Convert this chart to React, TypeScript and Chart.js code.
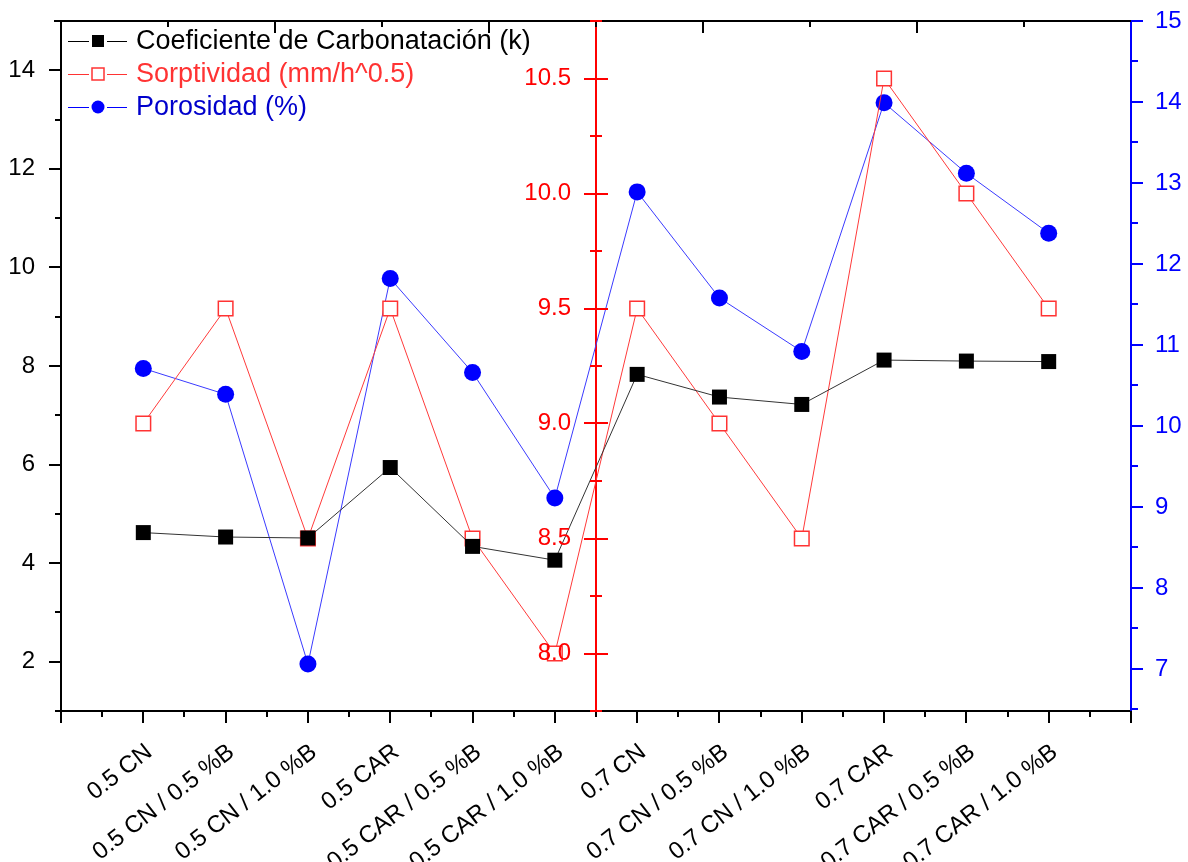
import React, { useEffect, useRef } from 'react';
import { Chart, registerables } from 'chart.js';

Chart.register(...registerables);

const categories = [
  '0.5 CN',
  '0.5 CN / 0.5 %B',
  '0.5 CN / 1.0 %B',
  '0.5 CAR',
  '0.5 CAR / 0.5 %B',
  '0.5 CAR / 1.0 %B',
  '0.7 CN',
  '0.7 CN / 0.5 %B',
  '0.7 CN / 1.0 %B',
  '0.7 CAR',
  '0.7 CAR / 0.5 %B',
  '0.7 CAR / 1.0 %B',
];
const carbonatacion = [4.62, 4.53, 4.51, 5.94, 4.34, 4.06, 7.83, 7.37, 7.22, 8.12, 8.1, 8.09];
const sorptividad = [9.0, 9.5, 8.5, 9.5, 8.5, 8.0, 9.5, 9.0, 8.5, 10.5, 10.0, 9.5];
const porosidad = [10.71, 10.39, 7.06, 11.82, 10.66, 9.11, 12.89, 11.58, 10.92, 13.99, 13.12, 12.38];

const leftTicks = [2, 4, 6, 8, 10, 12, 14];
const redTicks = [8.0, 8.5, 9.0, 9.5, 10.0, 10.5];
const blueTicks = [7, 8, 9, 10, 11, 12, 13, 14, 15];
const legendLabels = ['Coeficiente de Carbonatación (k)', 'Sorptividad (mm/h^0.5)', 'Porosidad (%)'];

const FONT = "'Liberation Sans', Arial, sans-serif";

const toPoints = (arr: number[]) => arr.map((y, i) => ({ x: i, y }));

const zeroPad = (s: any) => {
  s.paddingTop = 0;
  s.paddingBottom = 0;
  s.paddingLeft = 0;
  s.paddingRight = 0;
};

const originPlugin = {
  id: 'originDecor',
  afterDraw(chart: any) {
    const ctx = chart.ctx as CanvasRenderingContext2D;
    const { left, right, top, bottom } = chart.chartArea;
    const xs = chart.scales.x;
    const yL = chart.scales.yL;
    const yR = chart.scales.yR;
    const yB = chart.scales.yB;
    ctx.save();
    ctx.lineCap = 'butt';
    ctx.lineWidth = 2;
    const line = (x1: number, y1: number, x2: number, y2: number, c: string) => {
      ctx.strokeStyle = c;
      ctx.beginPath();
      ctx.moveTo(x1, y1);
      ctx.lineTo(x2, y2);
      ctx.stroke();
    };
    // top frame
    line(left - 7, top, right, top, '#000');
    // top ticks (inward)
    for (let k = 1; k < 10; k++) {
      const v = xs.min + ((xs.max - xs.min) * k) / 10;
      const px = Math.round(xs.getPixelForValue(v));
      line(px, top, px, top + (k % 2 === 0 ? 12 : 6), '#000');
    }
    // bottom ticks
    for (let v = xs.min; v <= xs.max + 1e-6; v += 0.5) {
      const px = Math.round(xs.getPixelForValue(v));
      line(px, bottom, px, bottom + (Number.isInteger(v) ? 12 : 6), '#000');
    }
    // left ticks
    for (let v = yL.min; v <= yL.max + 1e-6; v += 1) {
      const py = Math.round(yL.getPixelForValue(v));
      line(left, py, left - (v % 2 === 0 ? 12 : 6), py, '#000');
    }
    // red middle axis ticks and labels
    const rx = Math.round(xs.getPixelForValue(5.5));
    for (let v = yR.min; v <= yR.max + 1e-6; v += 0.25) {
      const py = Math.round(yR.getPixelForValue(v));
      const major = Math.abs(v * 2 - Math.round(v * 2)) < 1e-6;
      const len = major ? 12 : 6;
      line(rx - len, py, rx + len, py, '#ff0000');
    }
    ctx.font = `24px ${FONT}`;
    ctx.fillStyle = '#ff0000';
    ctx.textAlign = 'right';
    ctx.textBaseline = 'middle';
    redTicks.forEach((v) => {
      ctx.fillText(v.toFixed(1), rx - 25, yR.getPixelForValue(v));
    });
    // blue right ticks
    for (let v = 6.5; v <= yB.max + 1e-6; v += 0.5) {
      if (v < yB.min) continue;
      const py = Math.round(yB.getPixelForValue(v));
      line(right, py, right + (Number.isInteger(v) ? 12 : 7), py, '#0000ff');
    }
    // legend
    const items = [
      { text: legendLabels[0], textColor: '#000000', lineColor: '#000000', kind: 'rect' },
      { text: legendLabels[1], textColor: '#ff3333', lineColor: '#ff3333', kind: 'open' },
      { text: legendLabels[2], textColor: '#0000cc', lineColor: '#0000ff', kind: 'circle' },
    ];
    ctx.font = `27px ${FONT}`;
    ctx.textBaseline = 'middle';
    ctx.textAlign = 'left';
    items.forEach((it, i) => {
      const y = top + 20 + i * 33;
      const x0 = left + 7;
      const cx = left + 37;
      ctx.lineWidth = 1;
      line(x0, y + 0.5, cx - 9, y + 0.5, it.lineColor);
      line(cx + 9, y + 0.5, left + 66, y + 0.5, it.lineColor);
      if (it.kind === 'rect') {
        ctx.fillStyle = '#000';
        ctx.fillRect(cx - 6, y - 6, 12, 12);
      } else if (it.kind === 'open') {
        ctx.fillStyle = '#fff';
        ctx.fillRect(cx - 6, y - 6, 12, 12);
        ctx.lineWidth = 1.5;
        ctx.strokeStyle = '#ff3333';
        ctx.strokeRect(cx - 6, y - 6, 12, 12);
      } else {
        ctx.fillStyle = '#0000ff';
        ctx.beginPath();
        ctx.arc(cx, y, 6.5, 0, Math.PI * 2);
        ctx.fill();
      }
      ctx.fillStyle = it.textColor;
      ctx.fillText(it.text, left + 75, y + 1);
    });
    ctx.restore();
  },
};

export default function App() {
  const ref = useRef<HTMLCanvasElement | null>(null);
  useEffect(() => {
    if (!ref.current) return;
    const tickFont = { family: FONT, size: 24 };
    const chart = new Chart(ref.current, {
      type: 'line',
      data: {
        datasets: [
          {
            label: legendLabels[0],
            data: toPoints(carbonatacion),
            yAxisID: 'yL',
            borderColor: '#333333',
            borderWidth: 1,
            pointStyle: 'rect',
            pointRadius: 10.6,
            pointBackgroundColor: '#000000',
            pointBorderColor: '#000000',
            pointBorderWidth: 0,
            order: 0,
          },
          {
            label: legendLabels[1],
            data: toPoints(sorptividad),
            yAxisID: 'yR',
            borderColor: '#ff3a3a',
            borderWidth: 1,
            pointStyle: 'rect',
            pointRadius: 10.3,
            pointBackgroundColor: '#ffffff',
            pointBorderColor: '#ff3333',
            pointBorderWidth: 1.5,
            order: 1,
          },
          {
            label: legendLabels[2],
            data: toPoints(porosidad),
            yAxisID: 'yB',
            borderColor: '#3a3aff',
            borderWidth: 1,
            pointStyle: 'circle',
            pointRadius: 8.5,
            pointBackgroundColor: '#0000ff',
            pointBorderColor: '#0000ff',
            pointBorderWidth: 0,
            order: 2,
          },
        ],
      },
      options: {
        responsive: false,
        animation: false,
        layout: { padding: { top: 21, left: 0, right: 0, bottom: 0 } },
        plugins: { legend: { display: false }, tooltip: { enabled: false } },
        scales: {
          x: {
            type: 'linear',
            position: 'bottom',
            min: -1,
            max: 12,
            afterBuildTicks: (s: any) => {
              s.ticks = categories.map((_, i) => ({ value: i }));
            },
            afterFit: (s: any) => {
              s.height = 151;
              zeroPad(s);
            },
            ticks: {
              autoSkip: false,
              minRotation: 38,
              maxRotation: 38,
              padding: 19,
              labelOffset: 6,
              color: '#000000',
              font: tickFont,
              callback: (v: any) => categories[v] ?? '',
            },
            grid: { display: false },
            border: { color: '#000000', width: 2 },
          },
          yL: {
            type: 'linear',
            position: 'left',
            min: 1,
            max: 15,
            afterBuildTicks: (s: any) => {
              s.ticks = leftTicks.map((v) => ({ value: v }));
            },
            afterFit: (s: any) => {
              s.width = 61;
              zeroPad(s);
            },
            ticks: { padding: 18, color: '#000000', font: tickFont },
            grid: { display: false },
            border: { color: '#000000', width: 2 },
          },
          yR: {
            type: 'linear',
            position: { x: 5.5 },
            min: 7.75,
            max: 10.75,
            afterBuildTicks: (s: any) => {
              s.ticks = redTicks.map((v) => ({ value: v }));
            },
            afterFit: (s: any) => {
              zeroPad(s);
            },
            ticks: { display: false },
            grid: { display: false },
            border: { color: '#ff0000', width: 2 },
          },
          yB: {
            type: 'linear',
            position: 'right',
            min: 6.48,
            max: 15,
            afterBuildTicks: (s: any) => {
              s.ticks = blueTicks.map((v) => ({ value: v }));
            },
            afterFit: (s: any) => {
              s.width = 57;
              zeroPad(s);
            },
            ticks: { padding: 16, color: '#0000ff', font: tickFont },
            grid: { display: false },
            border: { color: '#0000ff', width: 2 },
          },
        },
      } as any,
      plugins: [originPlugin],
    });
    return () => chart.destroy();
  }, []);
  return (
    <div style={{ position: 'absolute', left: 0, top: 0, width: 1188, height: 862, background: '#fff' }}>
      <canvas ref={ref} width={1188} height={862} style={{ display: 'block' }} />
    </div>
  );
}
